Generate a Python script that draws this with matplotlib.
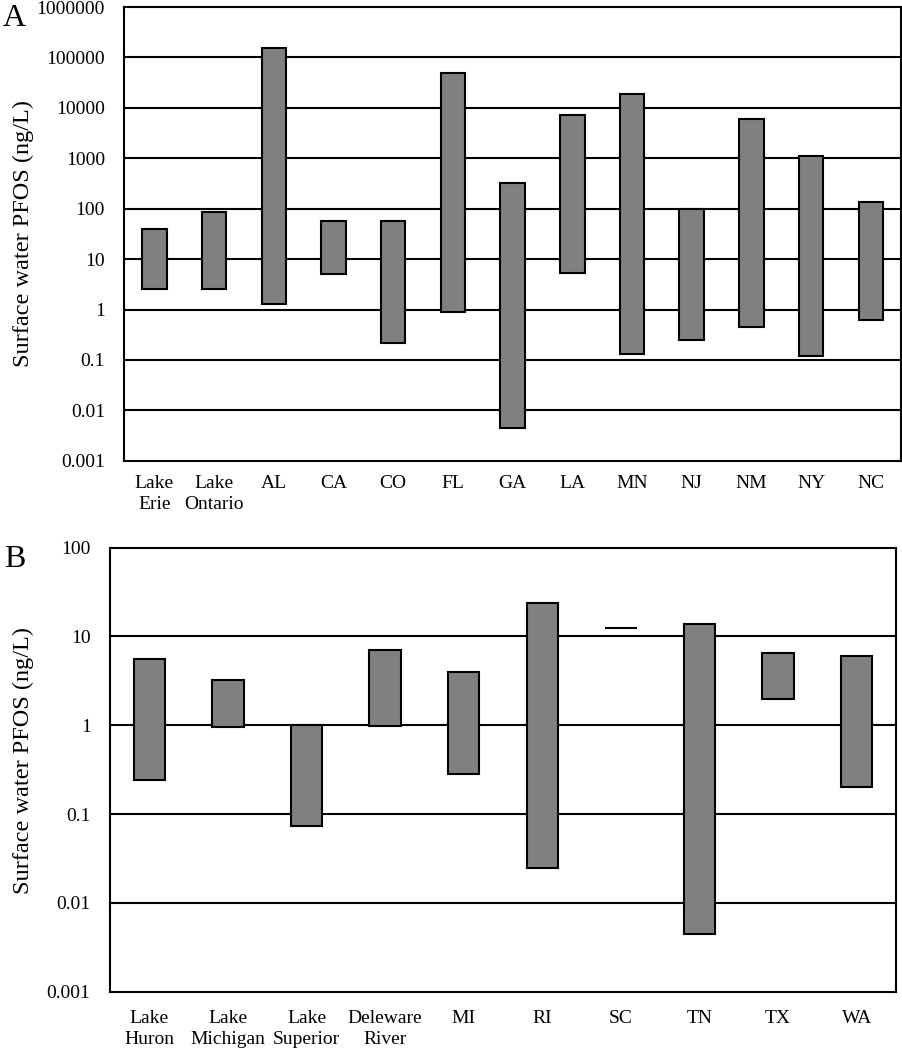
import numpy as np
import matplotlib.pyplot as plt

plt.rcParams['font.family'] = ['Liberation Serif', 'DejaVu Serif']

# Panel A data (ng/L)
sites_a = ['Lake\nErie', 'Lake\nOntario', 'AL', 'CA', 'CO', 'FL', 'GA', 'LA',
           'MN', 'NJ', 'NM', 'NY', 'NC']
low_a = [2.5, 2.6, 1.3, 5.0, 0.215, 0.91, 0.0044, 5.2, 0.134, 0.25, 0.45, 0.122, 0.61]
high_a = [40, 87, 153000, 56, 56, 50000, 330, 7100, 18500, 100, 6100, 1120, 133]

# Panel B data (ng/L)
sites_b = ['Lake\nHuron', 'Lake\nMichigan', 'Lake\nSuperior', 'Deleware\nRiver',
           'MI', 'RI', 'SC', 'TN', 'TX', 'WA']
low_b = [0.24, 0.96, 0.074, 0.98, 0.28, 0.025, 12.5, 0.0045, 2.0, 0.20]
high_b = [5.6, 3.2, 1.0, 7.0, 4.0, 24, 12.5, 14, 6.6, 6.0]

ticks_a = [0.001, 0.01, 0.1, 1, 10, 100, 1000, 10000, 100000, 1000000]
ticklabels_a = ['0.001', '0.01', '0.1', '1', '10', '100', '1000', '10000', '100000', '1000000']
ticks_b = [0.001, 0.01, 0.1, 1, 10, 100]
ticklabels_b = ['0.001', '0.01', '0.1', '1', '10', '100']

fig = plt.figure(figsize=(9.02, 10.5), dpi=100)
ax_a = fig.add_axes([0.138, 0.5612, 0.8605, 0.4321])
ax_b = fig.add_axes([0.122, 0.0555, 0.8714, 0.4229])


def draw_panel(ax, sites, low, high, ticks, ticklabels, width, xpad):
    x = np.arange(len(sites))
    low = np.array(low)
    high = np.array(high)
    ax.set_yscale('log')
    for t in ticks[1:-1]:
        ax.axhline(t, color='black', lw=1.5, zorder=1)
    ax.bar(x, high - low, bottom=low, width=width, color='#808080',
           edgecolor='black', linewidth=1.5, zorder=2)
    ax.set_ylim(ticks[0], ticks[-1])
    ax.set_xlim(-0.5, len(sites) - 0.5)
    ax.set_yticks(ticks)
    ax.set_yticklabels(ticklabels)
    ax.minorticks_off()
    ax.set_xticks(x)
    ax.set_xticklabels(sites, linespacing=1.3)
    ax.tick_params(axis='both', length=0)
    ax.tick_params(axis='y', pad=14, labelsize=14)
    ax.tick_params(axis='x', pad=xpad, labelsize=14)
    for s in ax.spines.values():
        s.set_linewidth(1.5)
    ax.set_ylabel('Surface water PFOS (ng/L)', fontsize=17.5)


draw_panel(ax_a, sites_a, low_a, high_a, ticks_a, ticklabels_a, 0.41, 10)
draw_panel(ax_b, sites_b, low_b, high_b, ticks_b, ticklabels_b, 0.40, 13)
ax_a.yaxis.set_label_coords(-0.117, 0.5)
ax_b.yaxis.set_label_coords(-0.097, 0.52)

fig.text(0.003, 0.982, 'A', fontsize=23, va='center', ha='left')
fig.text(0.005, 0.467, 'B', fontsize=23, va='center', ha='left')

fig.savefig('out.png', dpi=100)
